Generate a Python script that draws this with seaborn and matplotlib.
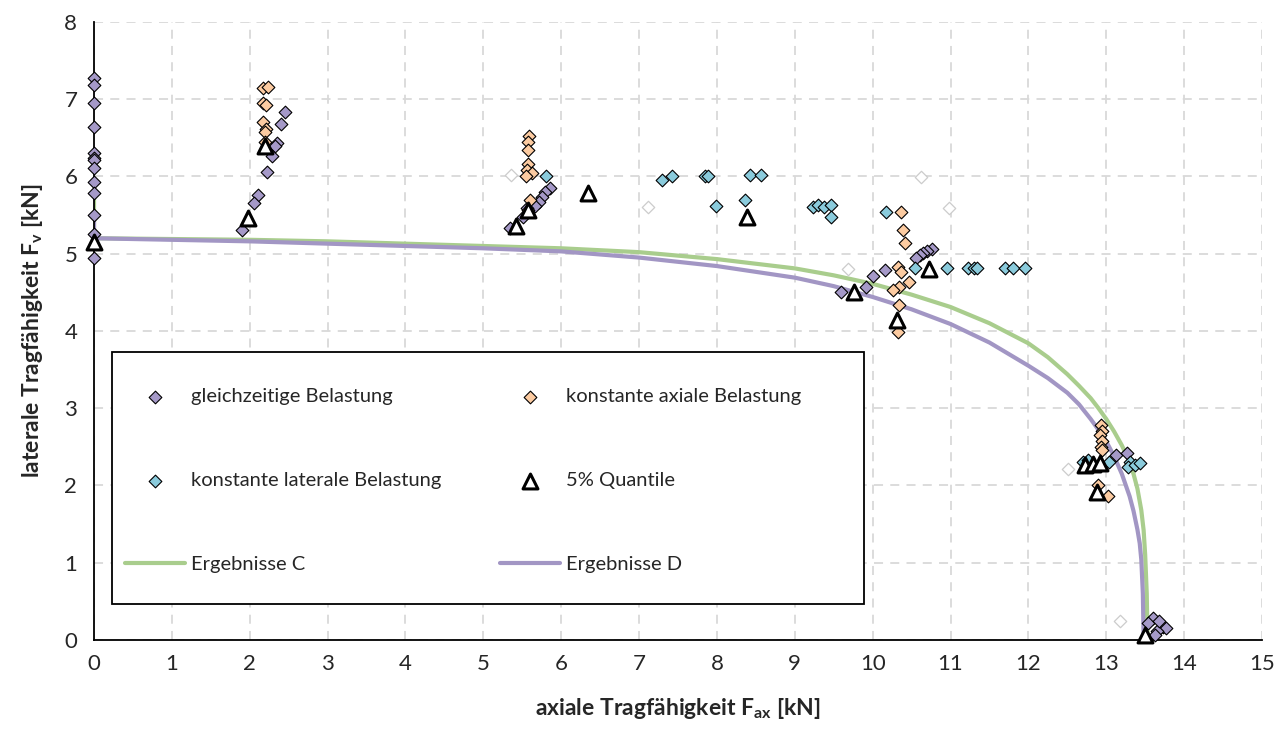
import numpy as np
import pandas as pd
import matplotlib
matplotlib.use('Agg')
import matplotlib.pyplot as plt
from matplotlib.patches import Rectangle
import seaborn as sns

# gleichzeitige Belastung
gl_x = [0, 0, 0, 0, 0, 0, 0, 0, 0, 0, 0, 0, 0,
        2.45, 2.40, 2.35, 2.32, 2.28, 2.22, 2.11, 2.05, 1.90,
        5.85, 5.79, 5.75, 5.71, 5.66, 5.56, 5.51, 5.34,
        10.76, 10.70, 10.65, 10.61, 10.56, 10.16, 10.01, 9.91, 9.59,
        13.13, 13.26,
        13.60, 13.54, 13.73, 13.77, 13.65, 13.63, 13.68]
gl_y = [7.27, 7.18, 6.95, 6.64, 6.30, 6.24, 6.21, 6.11, 5.93, 5.79, 5.50, 5.25, 4.94,
        6.84, 6.68, 6.43, 6.39, 6.27, 6.06, 5.76, 5.65, 5.31,
        5.85, 5.80, 5.74, 5.67, 5.62, 5.59, 5.48, 5.33,
        5.06, 5.04, 5.01, 4.98, 4.95, 4.79, 4.71, 4.57, 4.50,
        2.39, 2.42,
        0.29, 0.22, 0.17, 0.15, 0.11, 0.06, 0.25]

# konstante axiale Belastung
ax_x = [2.17, 2.24, 2.17, 2.21, 2.17, 2.21, 2.19, 2.19,
        5.59, 5.57, 5.58, 5.58, 5.56, 5.62, 5.55, 5.60, 5.58,
        10.36, 10.39, 10.41, 10.33, 10.36, 10.47, 10.34, 10.26, 10.34, 10.32,
        12.93, 12.94, 12.92, 12.95, 12.93, 12.94, 12.90, 13.02]
ax_y = [7.14, 7.16, 6.95, 6.93, 6.70, 6.62, 6.58, 6.45,
        6.52, 6.45, 6.34, 6.16, 6.08, 6.04, 6.01, 5.70, 5.57,
        5.54, 5.31, 5.14, 4.83, 4.76, 4.64, 4.57, 4.53, 4.34, 3.99,
        2.78, 2.70, 2.65, 2.57, 2.50, 2.46, 2.00, 1.86]

# konstante laterale Belastung
lat_x = [5.81,
         7.29, 7.42, 7.85, 7.89, 8.42, 8.57, 7.99, 8.36,
         9.24, 9.30, 9.37, 9.47, 9.47,
         10.17,
         10.54, 10.96, 11.23, 11.30, 11.34, 11.70, 11.80, 11.96,
         12.70, 12.76, 13.03, 13.30, 13.28, 13.37, 13.43]
lat_y = [6.01,
         5.95, 6.01, 6.01, 6.01, 6.02, 6.02, 5.62, 5.70,
         5.60, 5.63, 5.60, 5.63, 5.47,
         5.54,
         4.81, 4.81, 4.81, 4.81, 4.81, 4.81, 4.81, 4.81,
         2.31, 2.33, 2.31, 2.31, 2.24, 2.27, 2.29]

# 5% Quantile
q_x = [0, 1.98, 2.20, 5.42, 5.58, 6.35, 8.38, 9.76, 10.31, 10.72,
       12.73, 12.83, 12.92, 12.88, 13.50]
q_y = [5.15, 5.46, 6.40, 5.36, 5.57, 5.78, 5.48, 4.51, 4.14, 4.80,
       2.26, 2.28, 2.29, 1.91, 0.07]

# ausgeblendete Werte
hid_x = [5.36, 7.12, 9.68, 10.62, 10.98, 12.51, 13.18]
hid_y = [6.02, 5.61, 4.80, 5.99, 5.59, 2.21, 0.25]

# Ergebnisse C
c_x = [0, 0, 1, 2, 3, 4, 5, 6, 7, 8, 9, 9.5, 10, 10.5, 11, 11.5, 12, 12.25,
       12.5, 12.65, 12.8, 12.9, 13.0, 13.1, 13.2, 13.28, 13.35, 13.4, 13.45, 13.48,
       13.50, 13.52, 13.53]
c_y = [5.72, 5.20, 5.19, 5.18, 5.16, 5.13, 5.10, 5.07, 5.02, 4.93, 4.81, 4.72, 4.61, 4.47,
       4.31, 4.10, 3.84, 3.66, 3.44, 3.29, 3.13, 3.00, 2.86, 2.70, 2.52, 2.35, 2.15,
       1.96, 1.68, 1.42, 1.10, 0.60, 0.0]

# Ergebnisse D
d_x = [0, 0, 1, 2, 3, 4, 5, 6, 7, 8, 9, 9.5, 10, 10.5, 11, 11.5, 12, 12.25,
       12.5, 12.65, 12.8, 12.9, 13.0, 13.1, 13.2, 13.3, 13.35, 13.4, 13.43, 13.45,
       13.47, 13.48]
d_y = [5.42, 5.20, 5.18, 5.16, 5.13, 5.10, 5.07, 5.03, 4.95, 4.84, 4.69, 4.58, 4.44, 4.28,
       4.09, 3.85, 3.55, 3.39, 3.20, 3.05, 2.86, 2.72, 2.57, 2.38, 2.15, 1.86, 1.67,
       1.43, 1.25, 1.04, 0.60, 0.0]

sns.set_style('white')
plt.rcParams['font.family'] = ['Lato', 'DejaVu Sans']
plt.rcParams['mathtext.fontset'] = 'custom'
plt.rcParams['mathtext.rm'] = 'Lato'
plt.rcParams['mathtext.bf'] = 'Lato:bold'
plt.rcParams['mathtext.it'] = 'Lato:italic'

fig = plt.figure(figsize=(12.79, 7.31), dpi=100)
ax = fig.add_axes([0.0735, 0.1245, 0.9132, 0.8455])

purple = '#a599c8'
peach = '#fccba1'
cyan = '#8acbdc'
green_line = '#a9cd8d'
purple_line = '#a296c4'

sns.lineplot(x=c_x, y=c_y, sort=False, estimator=None, color=green_line, lw=3,
             ax=ax, label='Ergebnisse C', zorder=2)
sns.lineplot(x=d_x, y=d_y, sort=False, estimator=None, color=purple_line, lw=3,
             ax=ax, label='Ergebnisse D', zorder=2)

ax.scatter(hid_x, hid_y, marker='D', s=40, facecolor='white', edgecolor='#cccccc',
           linewidth=0.9, zorder=3, clip_on=False)
sns.scatterplot(x=gl_x, y=gl_y, marker='D', s=42, color=purple, edgecolor='black',
                linewidth=0.8, ax=ax, label='gleichzeitige Belastung', zorder=3, clip_on=False)
sns.scatterplot(x=ax_x, y=ax_y, marker='D', s=42, color=peach, edgecolor='black',
                linewidth=0.8, ax=ax, label='konstante axiale Belastung', zorder=3, clip_on=False)
sns.scatterplot(x=lat_x, y=lat_y, marker='D', s=42, color=cyan, edgecolor='black',
                linewidth=0.8, ax=ax, label='konstante laterale Belastung', zorder=3, clip_on=False)
sns.scatterplot(x=q_x, y=q_y, marker='^', s=115, color='white', edgecolor='black',
                linewidth=2.2, ax=ax, label='5% Quantile', zorder=4, clip_on=False)

ax.set_xlim(0, 15)
ax.set_ylim(0, 8)
ax.set_xticks(range(0, 16))
ax.set_yticks(range(0, 9))
ax.grid(True, color='#d9d9d9', linestyle=(0, (5, 4)), linewidth=1.3)
ax.set_axisbelow(True)
for s in ['top', 'right']:
    ax.spines[s].set_visible(False)
for s in ['left', 'bottom']:
    ax.spines[s].set_color('black')
    ax.spines[s].set_linewidth(1.3)
ax.tick_params(axis='x', direction='out', length=6, width=1.3, labelsize=16, pad=4)
ax.tick_params(axis='y', direction='inout', length=12, width=1.3, labelsize=16, pad=6)

ax.set_xlabel(r'axiale Tragfähigkeit $\mathbf{F_{ax}}$ [kN]', fontsize=16.5,
              fontweight='bold', labelpad=16)
ax.set_ylabel(r'laterale Tragfähigkeit $\mathbf{F_{v}}$ [kN]', fontsize=16.5,
              fontweight='bold', labelpad=14)

# Legendenrahmen
ax.add_patch(Rectangle((0.0154, 0.058), 0.644, 0.408, transform=ax.transAxes,
                       facecolor='white', edgecolor='black', lw=1.3, zorder=5))
handles, labels = ax.get_legend_handles_labels()
col1 = ['gleichzeitige Belastung', 'konstante laterale Belastung', 'Ergebnisse C']
col2 = ['konstante axiale Belastung', '5% Quantile', 'Ergebnisse D']
leg_kw = dict(loc='upper left', frameon=False, fontsize=14.5, labelspacing=3.33,
              handlelength=3.0, handletextpad=0.3, borderpad=0, borderaxespad=0)
leg1 = ax.legend([handles[labels.index(l)] for l in col1], col1,
                 bbox_to_anchor=(0.0265, 0.408), **leg_kw)
leg1.set_zorder(6)
ax.add_artist(leg1)
leg2 = ax.legend([handles[labels.index(l)] for l in col2], col2,
                 bbox_to_anchor=(0.3476, 0.408), **leg_kw)
leg2.set_zorder(6)

fig.savefig('out.png', dpi=100)
